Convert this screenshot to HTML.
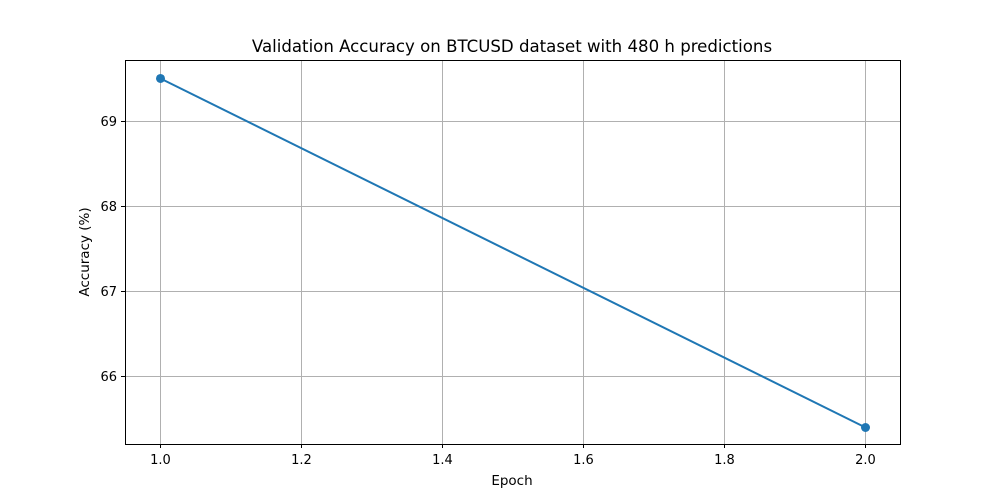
<!DOCTYPE html>
<html><head><meta charset="utf-8"><style>
body{margin:0;background:#fff;}
svg{display:block;font-family:"DejaVu Sans","Liberation Sans",sans-serif;}
</style></head><body>
<svg id="chart" width="1000" height="500">
<rect width="1000" height="500" fill="#fff"/>
<g id="grid"></g>
<g id="ticks"></g>
<g id="series"></g>
<rect x="125.5" y="60.5" width="775" height="384" fill="none" stroke="#000" stroke-width="1"/>
<text x="512" y="52" text-anchor="middle" font-size="16.6">Validation Accuracy on BTCUSD dataset with 480 h predictions</text>
<text x="512" y="485" text-anchor="middle" font-size="13.5">Epoch</text>
<text transform="translate(89,252) rotate(-90)" text-anchor="middle" font-size="13.5">Accuracy (%)</text>
</svg>
<script>
const epochs=[1.0,2.0];
const accuracy=[69.506,65.4];
const xTicks=[1.0,1.2,1.4,1.6,1.8,2.0];
const xTickLabels=["1.0","1.2","1.4","1.6","1.8","2.0"];
const yTicks=[66,67,68,69];
const yTickLabels=["66","67","68","69"];
const NS="http://www.w3.org/2000/svg";
function sx(v){return 160.5+(v-1)*705;}
function sy(v){return 121.5+(69-v)*85;}
function mk(tag,attrs,parent){const e=document.createElementNS(NS,tag);for(const k in attrs)e.setAttribute(k,attrs[k]);document.getElementById(parent).appendChild(e);return e;}
xTicks.forEach((t,i)=>{
 const g=mk('line',{x1:sx(t),x2:sx(t),y1:60,y2:444,stroke:'#b0b0b0','stroke-width':1},'grid');
 
 
 const tk=mk('line',{x1:sx(t),x2:sx(t),y1:444,y2:448,stroke:'#000'},'ticks');
 
 
 const tx=mk('text',{x:sx(t),y:464,'text-anchor':'middle','font-size':13},'ticks');
 tx.textContent=xTickLabels[i];
 
 
});
yTicks.forEach((t,i)=>{
 const g=mk('line',{x1:125,x2:900,y1:sy(t),y2:sy(t),stroke:'#b0b0b0','stroke-width':1},'grid');
 
 
 const tk=mk('line',{x1:121,x2:125,y1:sy(t),y2:sy(t),stroke:'#000'},'ticks');
 
 
 const tx=mk('text',{x:117,y:sy(t)+4.5,'text-anchor':'end','font-size':13},'ticks');
 tx.textContent=yTickLabels[i];
 
 
});
const pts=epochs.map((e,i)=>sx(e)+','+sy(accuracy[i])).join(' ');
const pl=mk('polyline',{points:pts,fill:'none',stroke:'#1f77b4','stroke-width':2},'series');


epochs.forEach((e,i)=>{
 const c=mk('circle',{cx:sx(e),cy:sy(accuracy[i]),r:4.5,fill:'#1f77b4'},'series');
 
 
});
</script>
</body></html>
